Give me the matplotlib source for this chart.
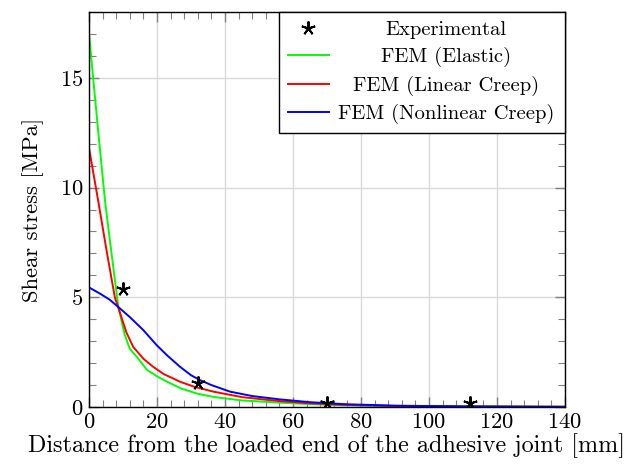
import matplotlib
matplotlib.use("Agg")
import matplotlib.pyplot as plt
from matplotlib.ticker import MultipleLocator
from matplotlib.offsetbox import VPacker

plt.rcParams['font.family'] = 'cmr10'
plt.rcParams['mathtext.fontset'] = 'cm'
plt.rcParams['axes.formatter.use_mathtext'] = True

# Data
exp_x = [10, 32, 70, 112]
exp_y = [5.4, 1.08, 0.2, 0.17]

el_x = [0, 2.5, 4.7, 6.7, 8.6, 9.6, 10.5, 12, 14, 15.5, 17, 20, 23, 27, 32, 37, 45, 56, 65, 75, 90, 110, 140]
el_y = [17.0, 12.9, 9.4, 6.9, 4.6, 3.9, 3.3, 2.65, 2.3, 2.0, 1.7, 1.4, 1.15, 0.85, 0.6, 0.45, 0.3, 0.2, 0.13, 0.08, 0.04, 0.02, 0.01]

lc_x = [0, 2.7, 5.2, 7.6, 9.1, 11, 13, 16, 18.9, 22, 26.8, 31, 36.6, 45, 56, 65, 75, 90, 110, 140]
lc_y = [11.8, 9.4, 7.1, 5.0, 4.3, 3.4, 2.74, 2.2, 1.83, 1.5, 1.15, 0.92, 0.70, 0.45, 0.27, 0.17, 0.1, 0.05, 0.02, 0.01]

nc_x = [0, 3.2, 6, 8.6, 12, 16, 19.9, 23, 26.8, 30, 32.6, 36, 41.5, 48, 56, 65, 75, 90, 110, 140]
nc_y = [5.45, 5.17, 4.9, 4.56, 4.1, 3.5, 2.82, 2.35, 1.83, 1.45, 1.23, 1.0, 0.70, 0.5, 0.35, 0.22, 0.13, 0.06, 0.03, 0.01]

labels = ['Experimental', 'FEM (Elastic)', 'FEM (Linear Creep)', 'FEM (Nonlinear Creep)']

fig = plt.figure(figsize=(6.25, 4.73), dpi=100)
ax = fig.add_axes([0.1424, 0.1395, 0.7616, 0.8351])

ax.plot(exp_x, exp_y, linestyle='none', marker=(5, 2, 0), markersize=10,
        markeredgewidth=1.4, color='black', label=labels[0], zorder=5)
ax.plot(el_x, el_y, color=(0, 1, 0), lw=1.4, label=labels[1])
ax.plot(lc_x, lc_y, color=(1, 0, 0), lw=1.4, label=labels[2])
ax.plot(nc_x, nc_y, color=(0, 0, 1), lw=1.4, label=labels[3])

ax.set_xlim(0, 140)
ax.set_ylim(0, 18)
ax.xaxis.set_major_locator(MultipleLocator(20))
ax.xaxis.set_minor_locator(MultipleLocator(4))
ax.yaxis.set_major_locator(MultipleLocator(5))
ax.yaxis.set_minor_locator(MultipleLocator(1))
ax.tick_params(which='both', direction='in', top=True, right=True, color='#808080',
               labelsize=16.3)
ax.tick_params(which='major', length=7, width=1, pad=4)
ax.tick_params(which='minor', length=5, width=0.8)
ax.grid(True, which='major', color='#d9d9d9', lw=1)
ax.set_axisbelow(True)
for s in ax.spines.values():
    s.set_linewidth(1)

ax.set_xlabel('Distance from the loaded end of the adhesive joint [mm]', fontsize=17.4, labelpad=0.5)
ax.set_ylabel('Shear stress [MPa]', fontsize=16.3, labelpad=11)

leg = ax.legend(loc='upper right', borderaxespad=0, fancybox=False, framealpha=1,
                edgecolor='black', fontsize=14.8, numpoints=1, handlelength=2.0,
                labelspacing=0.4, handletextpad=0.35, borderpad=0.42)
leg.get_frame().set_linewidth(1)

# center legend labels within their column (as in the reference)
fig.canvas.draw()
maxw = max(t.get_window_extent().width for t in leg.get_texts())
W = maxw + 4
for col in leg._legend_handle_box.get_children():
    for item in col.get_children():
        ch = item.get_children()
        ta = ch[1]
        vp = VPacker(pad=0, sep=0, width=W, align='center', children=[ta])
        vp.set_figure(fig)
        item._children[1] = vp

fig.savefig('out.png', dpi=100)
